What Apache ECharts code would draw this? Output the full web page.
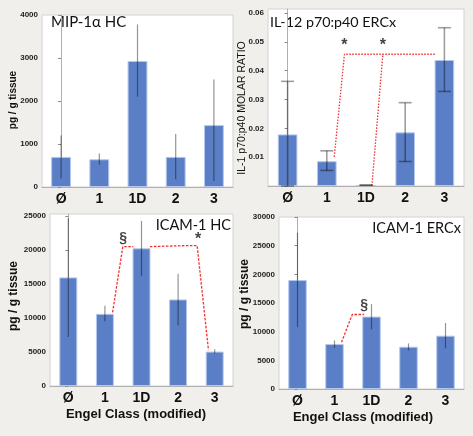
<!DOCTYPE html>
<html><head><meta charset="utf-8">
<script src="https://cdn.jsdelivr.net/npm/echarts@6/dist/echarts.min.js"></script>
<style>html,body{margin:0;padding:0;background:#f0efeb}#c{width:473px;height:436px}</style>
</head><body><div id="c"></div>
<script>
// ---- data ----
var categories = ['Ø', '1', '1D', '2', '3'];

var mipTicks = [0, 1000, 2000, 3000, 4000];
var il12Ticks = [0, 0.01, 0.02, 0.03, 0.04, 0.05, 0.06];
var icamHcTicks = [0, 5000, 10000, 15000, 20000, 25000];
var icamErTicks = [0, 5000, 10000, 15000, 20000, 25000, 30000];

var mipMean = [700, 645, 2930, 700, 1440];
var mipLow  = [200, 520, 2100, 180, 140];
var mipHigh = [1200, 780, 3780, 1230, 2500];

var il12Mean = [0.0179, 0.0086, 0.0003, 0.0186, 0.0437];
var il12Low  = [0, 0.0054, 0.0003, 0.0085, 0.0328];
var il12High = [0.0363, 0.0122, 0.0003, 0.0289, 0.0549];

var icamHcMean = [15970, 10610, 20250, 12730, 5060];
var icamHcLow  = [7220, 9530, 16220, 8940, 4770];
var icamHcHigh = [24670, 11790, 24280, 16510, 5400];

var icamErMean = [19000, 7840, 12630, 7370, 9300];
var icamErLow  = [10820, 7190, 10410, 6730, 7080];
var icamErHigh = [27250, 8480, 14800, 7950, 11520];

// significance brackets (category-index, value)
var il12Sig1 = [[1.19, 0.0101], [1.45, 0.0457], [3.77, 0.0457]];
var il12Sig2 = [[2.15, 0.0001], [2.43, 0.0457]];
var il12Stars = [[1.45, 0.0486], [2.43, 0.0486]];
var hcSigA = [[1.21, 10830], [1.49, 20500], [1.78, 20500]];
var hcSigB = [[2.23, 20500], [3.27, 20650], [3.52, 20650], [3.83, 5270]];
var hcSection = [[1.5, 21800]];
var hcStar = [[3.55, 21500]];
var erSig = [[1.19, 8150], [1.48, 12990], [1.80, 12990]];
var erSection = [[1.8, 14600]];

// ---- chart ----
var chart = echarts.init(document.getElementById('c'), null, {renderer: 'canvas'});
var BAR = '#5b7fc6';
var grids = [
  {left: 42, top: 15, width: 191, height: 172},
  {left: 268, top: 9, width: 196, height: 177},
  {left: 50, top: 214, width: 183, height: 172},
  {left: 279, top: 217, width: 185, height: 172}
];
var yMax = [4000, 0.06139, 25294, 30000];
var yTicks = [mipTicks, il12Ticks, icamHcTicks, icamErTicks];
var font = 'Liberation Sans, Arial, sans-serif';
var tfont = 'Lato, Liberation Sans, sans-serif';

function errSeries(gi, low, high, caps) {
  return {
    type: 'custom', xAxisIndex: gi, yAxisIndex: gi, z: 5,
    data: low.map(function (l, i) { return [i, l, high[i]]; }),
    encode: {x: 0, y: [1, 2]},
    renderItem: function (params, api) {
      var x = api.value(0);
      var p1 = api.coord([x, api.value(1)]);
      var p2 = api.coord([x, api.value(2)]);
      var st = {stroke: caps ? 'rgba(0,0,0,0.38)' : 'rgba(0,0,0,0.42)', lineWidth: caps ? 1.6 : 1.2};
      var ch = [{type: 'line', shape: {x1: p1[0], y1: p1[1], x2: p2[0], y2: p2[1]}, style: st}];
      if (caps) {
        var w = 6.5;
        ch.push({type: 'line', shape: {x1: p1[0] - w, y1: p1[1], x2: p1[0] + w, y2: p1[1]}, style: st});
        ch.push({type: 'line', shape: {x1: p2[0] - w, y1: p2[1], x2: p2[0] + w, y2: p2[1]}, style: st});
      }
      return {type: 'group', children: ch};
    }
  };
}
function barSeries(gi, data, bw) {
  return {type: 'bar', xAxisIndex: gi, yAxisIndex: gi, data: data, barWidth: bw,
    itemStyle: {color: BAR, borderColor: '#b4c7ec', borderWidth: 1}, z: 2};
}
function sigLine(gi, data, dash) {
  return {type: 'line', xAxisIndex: 4 + gi, yAxisIndex: gi, data: data, symbol: 'none', z: 4,
    lineStyle: {color: '#f03030', width: 1.3, type: dash || [2.5, 1.5]}, animation: false};
}
function sigText(gi, data, txt, size) {
  return {type: 'scatter', xAxisIndex: 4 + gi, yAxisIndex: gi, data: data, symbolSize: 1, z: 6,
    itemStyle: {color: 'rgba(0,0,0,0)'},
    label: {show: true, position: 'inside', formatter: txt, color: '#111', fontWeight: 'bold',
      fontSize: size, fontFamily: font}};
}

var xAxes = [], yAxes = [];
grids.forEach(function (g, i) {
  xAxes.push({type: 'category', gridIndex: i, data: categories,
    axisLine: {lineStyle: {color: '#b0b0b0'}}, axisTick: {show: false},
    axisLabel: {color: '#111', fontWeight: 'bold', fontSize: 14, fontFamily: font, margin: 5}});
  yAxes.push({type: 'value', gridIndex: i, min: 0, max: yMax[i],
    splitLine: {show: false},
    axisLine: {show: true, lineStyle: {color: '#b0b0b0'}},
    axisTick: {show: true, length: 3, lineStyle: {color: '#888'}, customValues: yTicks[i]},
    axisLabel: {customValues: yTicks[i], showMaxLabel: true, showMinLabel: true, hideOverlap: false,
      color: '#222', fontWeight: 'bold', fontSize: 8, fontFamily: font, margin: 4,
      formatter: function (v) {
        if (i === 1) return v === 0 ? '' : v.toFixed(2);
        return String(Math.round(v));
      }}});
});
for (var i = 0; i < 4; i++) {
  xAxes.push({type: 'value', gridIndex: i, min: -0.5, max: 4.5, show: false});
}

function txt(x, y, s, size, weight, rot, align, ff) {
  return {type: 'text', x: x, y: y, rotation: rot || 0,
    style: {text: s, fill: '#111', font: (weight || 'normal') + ' ' + size + 'px ' + (ff || font),
      textAlign: align || 'center', textVerticalAlign: 'middle'}};
}

chart.setOption({
  backgroundColor: '#f0efeb',
  animation: false,
  grid: grids.map(function (g) {
    return Object.assign({show: true, backgroundColor: '#ffffff', borderColor: '#d2d2d2', borderWidth: 1}, g);
  }),
  xAxis: xAxes,
  yAxis: yAxes,
  graphic: [
    txt(51, 22, 'MIP-1α HC', 15, 'normal', 0, 'left', tfont),
    txt(270, 22, 'IL-12 p70:p40 ERCx', 14.3, 'normal', 0, 'left', tfont),
    txt(231, 225, 'ICAM-1 HC', 14.5, 'normal', 0, 'right', tfont),
    txt(461, 228, 'ICAM-1 ERCx', 14.5, 'normal', 0, 'right', tfont),
    txt(13, 100, 'pg / g tissue', 10, 'bold', Math.PI / 2),
    txt(242, 108, 'IL-1 p70:p40 MOLAR RATIO', 10.5, 'normal', Math.PI / 2),
    txt(14, 296, 'pg / g tissue', 12, 'bold', Math.PI / 2),
    txt(245, 294, 'pg / g tissue', 12, 'bold', Math.PI / 2),
    txt(136, 414, 'Engel Class (modified)', 13, 'bold'),
    txt(363, 417, 'Engel Class (modified)', 13, 'bold')
  ],
  series: [
    barSeries(0, mipMean, '52%'),
    barSeries(1, il12Mean, '50%'),
    barSeries(2, icamHcMean, '49%'),
    barSeries(3, icamErMean, '50%'),
    errSeries(0, mipLow, mipHigh, false),
    errSeries(1, il12Low, il12High, true),
    errSeries(2, icamHcLow, icamHcHigh, false),
    errSeries(3, icamErLow, icamErHigh, false),
    sigLine(1, il12Sig1, [1.5, 1.5]),
    sigLine(1, il12Sig2, [1.5, 1.5]),
    sigText(1, il12Stars, '*', 16),
    sigLine(2, hcSigA),
    sigLine(2, hcSigB),
    sigText(2, hcSection, '§', 14),
    sigText(2, hcStar, '*', 16),
    sigLine(3, erSig),
    sigText(3, erSection, '§', 14)
  ]
});
</script></body></html>
